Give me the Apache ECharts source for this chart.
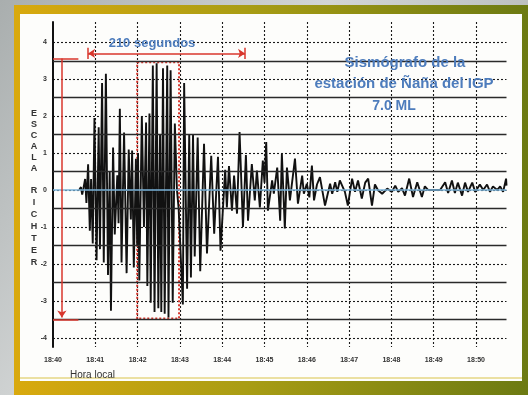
<!DOCTYPE html>
<html>
<head>
<meta charset="utf-8">
<script src="https://cdn.jsdelivr.net/npm/echarts@6/dist/echarts.min.js"></script>
<style>
  html, body { margin: 0; padding: 0; }
  #chart { width: 528px; height: 395px; }
</style>
</head>
<body>
<div id="chart"></div>
<script>
// minute labels along the bottom (value axis counts minutes after 18:40)
const timeLabels = ['18:40', '18:41', '18:42', '18:43', '18:44', '18:45',
  '18:46', '18:47', '18:48', '18:49', '18:50'];

// seismogram trace: [minutes after 18:40, richter scale units]
const wave = [
  [0.62, 0], [0.66, 0.08], [0.69, -0.12], [0.72, 0.05], [0.76, 0.3], [0.79, -0.35],
  [0.83, 0.7], [0.87, -1.1], [0.9, 0.3], [0.94, -1.45], [0.98, 1.95], [1.03, -1.9],
  [1.08, 1.7], [1.11, -1.6], [1.16, 2.9], [1.2, -1.96], [1.25, 3.15], [1.3, -2.3],
  [1.34, 0.5], [1.37, -3.27], [1.42, 1.15], [1.46, -1.2], [1.52, 0.4], [1.55, -0.9],
  [1.58, 2.2], [1.62, -1.96], [1.68, 1.56], [1.74, -2.25], [1.79, 1.1], [1.84, -0.8],
  [1.87, 1.07], [1.91, -2.1], [1.96, 0.85], [1.99, -1.5], [2.01, 1.0], [2.04, -2.45],
  [2.1, 2.0], [2.15, -1.0], [2.2, 1.83], [2.23, -2.6], [2.28, 2.07], [2.31, -3.05],
  [2.36, 3.37], [2.4, -3.3], [2.45, 3.43], [2.49, -3.2], [2.53, 1.5], [2.56, -3.3],
  [2.6, 3.3], [2.64, -3.35], [2.7, 3.37], [2.73, -3.45], [2.78, 3.24], [2.83, -3.05],
  [2.88, 1.8], [2.93, 0.0], [2.97, -0.5], [3.07, -3.1], [3.1, 2.9], [3.17, -2.67],
  [3.22, 1.5], [3.26, -2.37], [3.31, 1.5], [3.35, -1.8], [3.42, 1.42], [3.48, -2.2],
  [3.57, 1.25], [3.64, -1.72], [3.74, 0.93], [3.81, -1.18], [3.9, 0.9], [3.96, -1.64],
  [4.07, 0.55], [4.11, -0.47], [4.16, 0.65], [4.23, -0.56], [4.28, 0.39], [4.35, -0.64],
  [4.41, 1.57], [4.49, -1.0], [4.56, 0.95], [4.61, -0.83], [4.7, 0.7], [4.77, -0.28],
  [4.82, 0.53], [4.89, -0.47], [4.96, 0.8], [5.0, 0.2], [5.04, 1.3], [5.08, -0.56],
  [5.18, 0.26], [5.22, -0.1], [5.3, 0.61], [5.37, -0.83], [5.41, 0.98], [5.48, -1.04],
  [5.53, 0.61], [5.6, -0.28], [5.72, 0.85], [5.79, -0.37], [5.89, 0.39], [5.93, -0.1],
  [6.0, 0.17], [6.06, -0.2], [6.12, 0.66], [6.17, -0.28], [6.24, 0.15], [6.31, 0.35],
  [6.43, -0.42], [6.55, 0.17], [6.6, -0.1], [6.67, 0.21], [6.72, -0.05], [6.78, 0.26],
  [6.9, -0.05], [6.97, -0.42], [7.07, 0.31], [7.14, -0.05], [7.21, 0.26], [7.3, -0.23],
  [7.38, 0.2], [7.45, 0.31], [7.54, -0.42], [7.61, 0.15], [7.68, 0.0], [7.78, -0.1],
  [7.9, 0.04], [8.01, -0.05], [8.09, 0.12], [8.16, -0.05], [8.25, 0.05], [8.32, -0.15],
  [8.42, 0.31], [8.51, -0.19], [8.61, 0.21], [8.72, -0.19], [8.79, 0.1], [8.87, 0.0],
  [9.15, 0.0], [9.27, 0.21], [9.34, -0.08], [9.43, 0.26], [9.5, -0.08], [9.57, 0.2],
  [9.67, -0.15], [9.74, 0.2], [9.81, -0.05], [9.91, 0.2], [9.98, -0.05], [10.09, 0.15],
  [10.17, 0.0], [10.26, 0.15], [10.33, -0.05], [10.4, 0.1], [10.5, 0.0], [10.57, 0.1],
  [10.64, -0.05], [10.71, 0.31], [10.72, 0.12],
];

// solid rules between the dotted integer grid lines
const halfLines = [-3.5, -2.5, -1.5, -0.5, 0.5, 1.5, 2.5, 3.5];

// red annotations, in data units
const spanArrow = [[0.83, 3.7], [4.54, 3.7]];      // "210 segundos"
const rangeArrow = [[0.21, 3.56], [0.21, -3.45]];  // full amplitude range
const rangeCaps = [[[0, 3.56], [0.6, 3.56]], [[0, -3.5], [0.6, -3.5]]];
const peakBox = [[1.99, 3.46], [2.98, -3.48]];

const RED = '#d8362c';
const BLUE = '#4d7cbc';
const FONT = 'Liberation Sans';

const chart = echarts.init(document.getElementById('chart'));

const letters = (word) => word.split('').join('\n');

const option = {
  animation: false,
  textStyle: { fontFamily: FONT },
  grid: { left: 53, right: 21.5, top: 22, bottom: 48 },
  xAxis: {
    type: 'value',
    min: 0,
    max: 10.72,
    interval: 1,
    axisLine: { show: false },
    axisTick: { show: false },
    axisLabel: {
      margin: 10,
      fontSize: 7,
      fontWeight: 'bold',
      color: '#333',
      formatter: (v) => (Number.isInteger(v) ? timeLabels[v] : ''),
    },
    splitLine: {
      show: true,
      showMinLine: false,
      showMaxLine: false,
      lineStyle: { type: [2, 2], color: '#1a1a1a', width: 1.1 },
    },
  },
  yAxis: {
    type: 'value',
    min: -4.25,
    max: 4.55,
    minInterval: 1,
    maxInterval: 1,
    axisLine: { show: true, lineStyle: { color: '#111', width: 2 } },
    axisTick: { show: false },
    axisLabel: {
      margin: 6,
      fontSize: 7,
      fontWeight: 'bold',
      color: '#333',
      formatter: (v) => (Number.isInteger(v) ? String(v) : ''),
    },
    splitLine: {
      show: true,
      showMinLine: false,
      showMaxLine: false,
      lineStyle: { type: [2, 2], color: '#1a1a1a', width: 1.1 },
    },
  },
  series: [
    {
      // background rules: solid half lines and the blue zero line
      type: 'line',
      data: [],
      silent: true,
      z: 1,
      markLine: {
        silent: true,
        symbol: ['none', 'none'],
        label: { show: false },
        lineStyle: { type: 'solid', color: '#2a2a2a', width: 1.3 },
        data: halfLines
          .map((v) => ({ yAxis: v }))
          .concat([{ yAxis: 0, lineStyle: { color: '#7ab3da', width: 1.6 } }]),
      },
    },
    {
      type: 'line',
      data: wave,
      showSymbol: false,
      silent: true,
      z: 3,
      lineStyle: { color: '#111', width: 1.9 },
    },
    {
      // red annotations over the trace
      type: 'line',
      data: [],
      silent: true,
      z: 5,
      markLine: {
        silent: true,
        symbol: ['none', 'none'],
        symbolSize: 7,
        label: { show: false },
        lineStyle: { type: 'solid', color: RED, width: 1.5 },
        data: [
          [
            { coord: spanArrow[0], symbol: 'arrow' },
            { coord: spanArrow[1], symbol: 'arrow' },
          ],
          [{ coord: [spanArrow[0][0], 3.55] }, { coord: [spanArrow[0][0], 3.85] }],
          [{ coord: [spanArrow[1][0], 3.55] }, { coord: [spanArrow[1][0], 3.85] }],
          [{ coord: rangeArrow[0] }, { coord: rangeArrow[1], symbol: 'arrow' }],
          [{ coord: rangeCaps[0][0] }, { coord: rangeCaps[0][1] }],
          [{ coord: rangeCaps[1][0] }, { coord: rangeCaps[1][1] }],
        ],
      },
      markArea: {
        silent: true,
        itemStyle: {
          color: 'rgba(0,0,0,0)',
          borderColor: RED,
          borderWidth: 2,
          borderType: [2, 2],
        },
        data: [[{ coord: peakBox[0] }, { coord: peakBox[1] }]],
      },
    },
  ],
  graphic: [
    // photo backdrop: metal background, gold/olive frame, white sheet
    {
      type: 'rect',
      z: -30,
      silent: true,
      shape: { x: 0, y: 0, width: 528, height: 395 },
      style: {
        fill: new echarts.graphic.LinearGradient(0, 0, 1, 1, [
          { offset: 0, color: '#a9aeae' },
          { offset: 0.4, color: '#d2d5d5' },
          { offset: 1, color: '#9ea3a3' },
        ]),
      },
    },
    {
      type: 'rect',
      z: -29,
      silent: true,
      shape: { x: 14, y: 5, width: 514, height: 390 },
      style: {
        fill: new echarts.graphic.LinearGradient(0, 0, 1, 0, [
          { offset: 0, color: '#d9a90e' },
          { offset: 0.45, color: '#a99d14' },
          { offset: 1, color: '#6c7a12' },
        ]),
      },
    },
    {
      type: 'rect',
      z: -28,
      silent: true,
      shape: { x: 20, y: 14, width: 502, height: 367 },
      style: { fill: '#fdfdfb' },
    },
    {
      type: 'rect',
      z: -27,
      silent: true,
      shape: { x: 20, y: 377, width: 502, height: 2 },
      style: { fill: '#ebe0a2' },
    },
    // texts
    {
      type: 'text',
      z: 10,
      x: 152,
      y: 43,
      style: {
        text: '210 segundos',
        font: 'bold 13px "Liberation Sans"',
        fill: BLUE,
        align: 'center',
        verticalAlign: 'middle',
      },
    },
    {
      type: 'text',
      z: 10,
      x: 405,
      y: 63,
      style: {
        text: 'Sismógrafo de la',
        font: 'bold 15px "Liberation Sans"',
        fill: BLUE,
        align: 'center',
        verticalAlign: 'middle',
      },
    },
    {
      type: 'text',
      z: 10,
      x: 404,
      y: 84,
      style: {
        text: 'estación de Ñaña del IGP',
        font: 'bold 15px "Liberation Sans"',
        fill: BLUE,
        align: 'center',
        verticalAlign: 'middle',
      },
    },
    {
      type: 'text',
      z: 10,
      x: 394,
      y: 106,
      style: {
        text: '7.0 ML',
        font: 'bold 14px "Liberation Sans"',
        fill: BLUE,
        align: 'center',
        verticalAlign: 'middle',
      },
    },
    {
      type: 'text',
      z: 10,
      x: 34,
      y: 108,
      style: {
        text: letters('ESCALA'),
        font: 'bold 9px "Liberation Sans"',
        lineHeight: 11,
        fill: '#333',
        align: 'center',
      },
    },
    {
      type: 'text',
      z: 10,
      x: 34,
      y: 185,
      style: {
        text: letters('RICHTER'),
        font: 'bold 9px "Liberation Sans"',
        lineHeight: 12,
        fill: '#333',
        align: 'center',
      },
    },
    {
      type: 'text',
      z: 10,
      x: 70,
      y: 375,
      style: {
        text: 'Hora local',
        font: '10px "Liberation Sans"',
        fill: '#333',
        verticalAlign: 'middle',
      },
    },
  ],
};

chart.setOption(option);
</script>
</body>
</html>
